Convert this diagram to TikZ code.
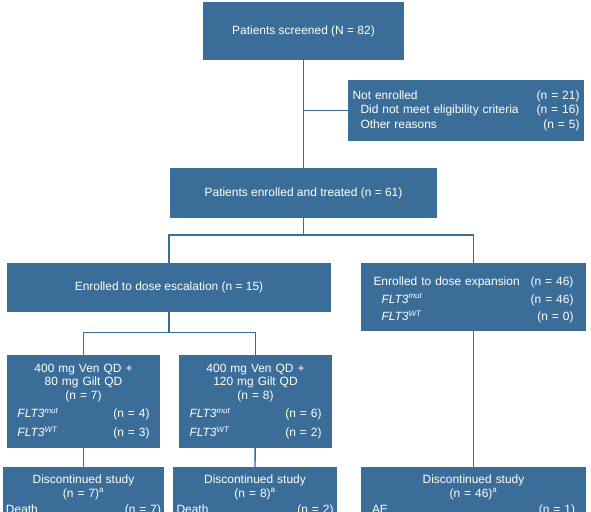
\documentclass[tikz,border=0pt]{standalone}
\usepackage{fontspec}
\setmainfont{Liberation Sans}
\usepackage{tikz}
\definecolor{boxblue}{RGB}{59,109,153}
\newcommand{\flt}[1]{\textit{FLT3}\textsuperscript{\textit{#1}}}
\newcommand{\Row}[2]{\makebox[\linewidth][l]{#1\hfill#2}}

\begin{document}
\begin{tikzpicture}[
x=1bp, y=-1bp,
MyBoxes/.style={fill=boxblue,text=white,inner sep=0pt,align=center,
  font=\fontsize{12}{14}\selectfont},
TopBoxes/.style={MyBoxes,anchor=north,inner ysep=7.5bp,text depth=60bp},
Links/.style={draw=boxblue,line width=1.4bp}
]
\useasboundingbox (0,0) rectangle (591,512);
\clip (0,0) rectangle (591,512);

% screening and enrolment
\node[MyBoxes,minimum width=201bp,minimum height=58bp] (screened) at (303.5,31)
  {Patients screened (N = 82)};

\node[MyBoxes,minimum width=236bp,minimum height=61bp,text width=227bp] (notenr) at (466,110.5)
  {\Row{Not enrolled}{(n = 21)}\\[0.5bp]
   \Row{\hspace{8bp}Did not meet eligibility criteria}{(n = 16)}\\[0.5bp]
   \Row{\hspace{8bp}Other reasons}{(n = 5)}};

\node[MyBoxes,minimum width=267bp,minimum height=50bp] (treated) at (303.5,193)
  {Patients enrolled and treated (n = 61)};

% escalation / expansion
\node[MyBoxes,minimum width=225bp,minimum height=68bp,text width=200bp] (expan) at (473.5,297)
  {\Row{\rule{0pt}{15bp}Enrolled to dose expansion}{(n = 46)}\\[3.5bp]
   \Row{\hspace{8bp}\flt{mut}}{(n = 46)}\\[3.5bp]
   \Row{\hspace{8bp}\flt{WT}}{(n = 0)}};

\node[MyBoxes,minimum width=324bp,minimum height=49bp] (escal) at (169,287.5)
  {Enrolled to dose escalation (n = 15)};

% dose cohorts
\node[MyBoxes,minimum width=153bp,minimum height=93bp,text width=132bp] (doseA) at (83.5,401.5)
  {400 mg Ven QD +\\80 mg Gilt QD\\(n = 7)\\[4bp]
   \Row{\flt{mut}}{(n = 4)}\\[5bp]
   \Row{\flt{WT}}{(n = 3)}};

\node[MyBoxes,minimum width=153bp,minimum height=93bp,text width=132bp] (doseB) at (255.5,401.5)
  {400 mg Ven QD +\\120 mg Gilt QD\\(n = 8)\\[4bp]
   \Row{\flt{mut}}{(n = 6)}\\[5bp]
   \Row{\flt{WT}}{(n = 2)}};

% discontinuation
\node[TopBoxes,minimum width=161bp,text width=155bp] (discA) at (83.5,467)
  {Discontinued study\\(n = 7)\textsuperscript{a}\\[2bp]
   \Row{Death}{(n = 7)}};

\node[TopBoxes,minimum width=164bp,text width=157bp] (discB) at (255,467)
  {Discontinued study\\(n = 8)\textsuperscript{a}\\[2bp]
   \Row{Death}{(n = 2)}};

\node[TopBoxes,minimum width=225bp,text width=203bp] (discC) at (473.5,467)
  {Discontinued study\\(n = 46)\textsuperscript{a}\\[2bp]
   \Row{AE}{(n = 1)}};

% connectors
\draw[Links] (screened) -- (treated);
\draw[Links] (screened.south |- notenr.west) -- (notenr.west);
\draw[Links] (treated.south) -- ++(0,17) -| (escal.north);
\draw[Links] (treated.south) -- ++(0,17) -| (expan.north);
\draw[Links] (escal.south) -- ++(0,20) -| (doseA.north);
\draw[Links] (escal.south) -- ++(0,20) -| (doseB.north);
\draw[Links] (doseA) -- (discA.north);
\draw[Links] (doseB) -- (discB.north);
\draw[Links] (expan) -- (discC.north);

\end{tikzpicture}
\end{document}
